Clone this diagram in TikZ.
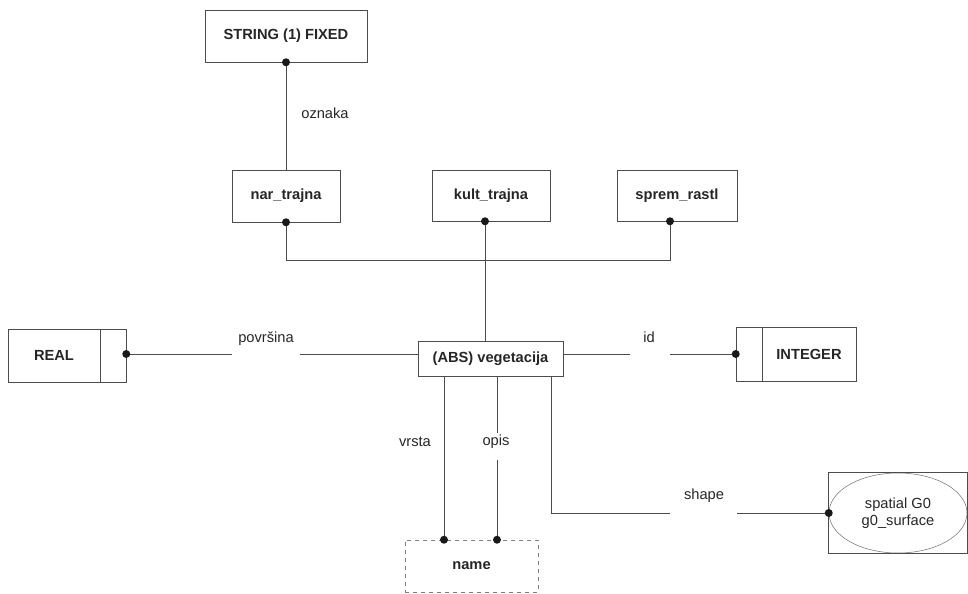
\documentclass[tikz,border=0pt]{standalone}
\usepackage{fontspec}
\setmainfont{Liberation Sans}
\usetikzlibrary{calc}
\usetikzlibrary{shapes.geometric}

\begin{document}
\begin{tikzpicture}[x=0.75pt, y=-0.75pt,
  every node/.style={font=\fontsize{11}{13}\selectfont, text=black!85},
  box/.style={draw=black!70, inner sep=0pt, font=\fontsize{11}{13}\selectfont\bfseries},
  line/.style={draw=black!70},
  pin/.style={fill=black!90}]

\useasboundingbox (0,0) rectangle (968,593);

\node[box, minimum width=121.5pt, minimum height=39pt] (string) at (286,36) {STRING (1) FIXED};
\node[box, minimum width=81pt, minimum height=39pt] (nar) at (286,196) {nar\_trajna};
\node[box, minimum width=88.5pt, minimum height=38.25pt] (kult) at (491,195.5) {kult\_trajna};
\node[box, minimum width=90pt, minimum height=38.25pt] (sprem) at (677,195.5) {sprem\_rastl};
\node[box, minimum width=108.75pt, minimum height=26.25pt] (veg) at (490.5,358.5) {(ABS) vegetacija};

\node[box, minimum width=69pt, minimum height=39.75pt] (real) at (54,355.5) {REAL};
\node[box, minimum width=19.5pt, minimum height=39.75pt] (realend) at (113,355.5) {};
\node[box, minimum width=19.5pt, minimum height=40.5pt] (intend) at (749,354) {};
\node[box, minimum width=70.5pt, minimum height=40.5pt] (integer) at (809,354) {INTEGER};

\node[box, draw=black!50, dashed, minimum width=99.75pt, minimum height=39pt] (name) at (471.5,566) {name};

\node[draw=black!55, ellipse, inner sep=0pt, minimum width=103.5pt, minimum height=60pt, align=center] (spatial) at (898,513) {spatial G0\\g0\_surface};
\draw[line] (spatial.west |- spatial.north) rectangle (spatial.east |- spatial.south);

\node (oznaka) at (325,113) {oznaka};
\node (povrsina) at (266,339) {površina};
\node (id) at (649,337) {id};
\node (vrsta) at (415,442) {vrsta};
\node (opis) at (496,442) {opis};
\node (shape) at (704,496) {shape};

\coordinate (kultpin) at ($(kult.south)+(-6,0)$);
\coordinate (sprempin) at ($(sprem.south)+(-7,0)$);
\coordinate (vegw) at ($(veg.west)+(0,-4.5)$);
\coordinate (vege) at ($(veg.east)+(0,-4.5)$);
\coordinate (vrstapin) at (name.north -| 444,0);
\coordinate (opispin) at (name.north -| 497,0);

\draw[line] (string.south) -- (nar.north);
\draw[line] (nar.south) -- (nar.south |- 0,260) -| (sprempin);
\draw[line] (kultpin) -- (kultpin |- veg.north);

\draw[line] (vegw) -- (vegw -| 300,0);
\draw[line] (vegw -| 232,0) -- (realend.east |- vegw);
\draw[line] (vege) -- (vege -| 630,0);
\draw[line] (vege -| 670,0) -- (intend.west);

\draw[line] (veg.south -| vrstapin) -- (vrstapin);
\draw[line] (veg.south -| opispin) -- (opispin |- 0,433);
\draw[line] (opispin |- 0,460) -- (opispin);
\draw[line] (veg.south -| 551,0) |- (670,0 |- spatial.west);
\draw[line] (737,0 |- spatial.west) -- (spatial.west);

\fill[pin] (string.south) circle (3pt);
\fill[pin] (nar.south) circle (3pt);
\fill[pin] (kultpin) circle (3pt);
\fill[pin] (sprempin) circle (3pt);
\fill[pin] (realend.east |- vegw) circle (3pt);
\fill[pin] (intend.west) circle (3pt);
\fill[pin] (vrstapin) circle (3pt);
\fill[pin] (opispin) circle (3pt);
\fill[pin] (spatial.west) circle (3pt);

\end{tikzpicture}
\end{document}
